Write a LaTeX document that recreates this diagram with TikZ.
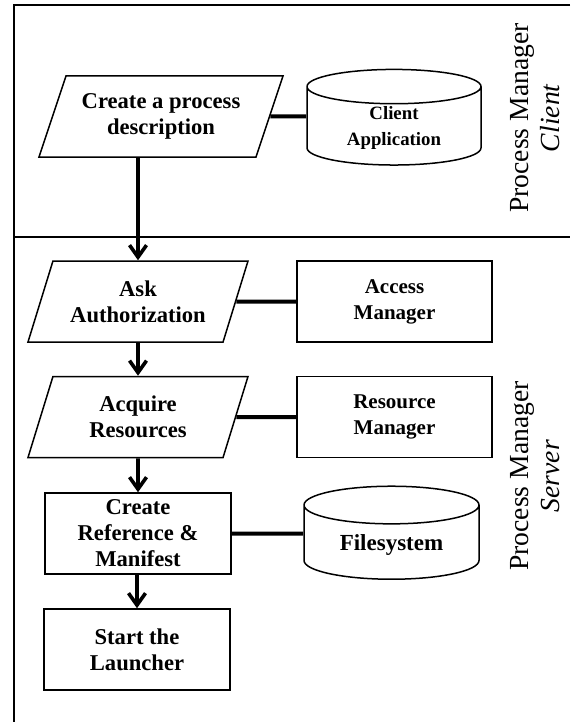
\documentclass[tikz,border=0pt]{standalone}
\usepackage{fontspec}
\setmainfont{Liberation Serif}
\usetikzlibrary{shapes.geometric,arrows.meta}

\begin{document}
\begin{tikzpicture}[x=0.5pt,y=-0.5pt,
	io_node/.style={trapezium,draw,line width=0.75pt,trapezium left angle=61.5,trapezium right angle=118.5,
		trapezium stretches body,minimum width=110pt,minimum height=40.5pt,inner sep=1pt,align=center,
		font=\fontsize{11.3}{13}\selectfont\bfseries},
	proc_node/.style={rectangle,draw,line width=0.75pt,minimum height=40.5pt,inner sep=1pt,align=center},
	db_node/.style={cylinder,draw,line width=0.75pt,shape border rotate=90,aspect=0.35,inner sep=1pt,align=center},
	link/.style={line width=2pt},
	flow/.style={line width=1.8pt,-{Straight Barb[length=6pt,width=8.5pt]}},
	lane_label/.style={rotate=90,align=center,font=\fontsize{13.8}{15.5}\selectfont}]

		\useasboundingbox (0,0) rectangle (570,722);
		% frame and divider of the two lanes
		\draw[line width=0.85pt] (570,5) -- (14,5) -- (14,722);
		\draw[line width=0.85pt] (14,237) -- (570,237);

		% client lane
		\node[io_node,minimum width=122pt] (describe) at (161,116.5) {Create a process\\description};
		\node[db_node,minimum width=87pt,minimum height=47pt,font=\fontsize{9.4}{13}\selectfont\bfseries] (client) at (394,128) {Client\\Application};
		\node[lane_label] (clientlane) at (535,118) {Process Manager\\\textit{Client}};

		% server lane
		\node[io_node] (authorize) at (138,301.5) {Ask\\Authorization};
		\node[proc_node,minimum width=97.5pt,font=\fontsize{10.5}{13}\selectfont\bfseries] (access) at (394.5,301.5) {Access\\Manager};
		\node[io_node] (acquire) at (138,417) {Acquire\\Resources};
		\node[proc_node,minimum width=97.5pt,font=\fontsize{10.5}{13}\selectfont\bfseries] (resource) at (394.5,417) {Resource\\Manager};
		\node[proc_node,minimum width=93pt,font=\fontsize{11.3}{13}\selectfont\bfseries] (manifest) at (138,533.5) {Create\\Reference \&\\Manifest};
		\node[db_node,minimum width=87.5pt,minimum height=46.5pt,font=\fontsize{11.5}{13}\selectfont\bfseries] (files) at (391.5,544.5) {Filesystem};
		\node[proc_node,minimum width=93pt,font=\fontsize{11.3}{13}\selectfont\bfseries] (launch) at (137,649.5) {Start the\\Launcher};
		\node[lane_label] (serverlane) at (535,476) {Process Manager\\\textit{Server}};

		\path[draw,link]
		(describe.east) -- (client.180 |- describe.east)
		(authorize) -- (access)
		(acquire) -- (resource)
		(manifest.east) -- (files.180 |- manifest.east);

		\draw[flow] (describe.south -| authorize.north) -- (authorize.north);
		\draw[flow] (authorize.south) -- (acquire.north);
		\draw[flow] (acquire.south) -- (manifest.north);
		\draw[flow] (manifest.south -| launch.north) -- (launch.north);

	\end{tikzpicture}
\end{document}
